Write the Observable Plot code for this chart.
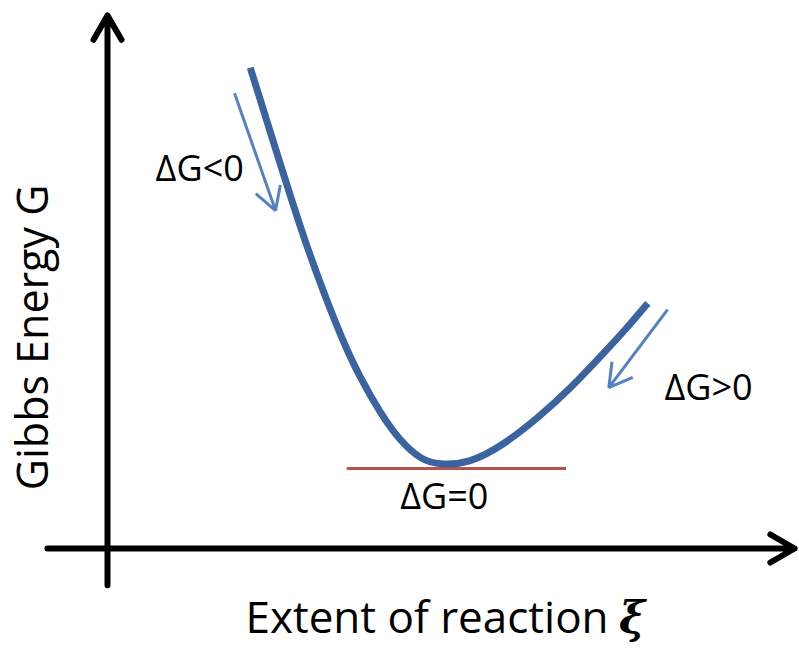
<!DOCTYPE html>
<html>
<head>
<meta charset="utf-8">
<script src="https://cdn.jsdelivr.net/npm/d3@7"></script>
<script src="https://cdn.jsdelivr.net/npm/@observablehq/plot@0.6"></script>
<style>
  html, body { margin: 0; padding: 0; background: #ffffff; }
  #chart svg { display: block; }
</style>
</head>
<body>
<div id="chart"></div>
<script>
// Gibbs energy curve (extent of reaction ξ, Gibbs energy G), arbitrary units
const curveXi = [2.09, 2.47, 2.84, 3.16, 3.44, 3.70, 4.00, 4.29, 4.58, 4.88, 5.31, 5.80, 6.30, 6.78, 7.26, 7.61, 7.91];
const curveG  = [9.02, 7.46, 5.98, 4.83, 3.93, 3.22, 2.55, 2.04, 1.71, 1.59, 1.65, 1.97, 2.46, 3.02, 3.66, 4.15, 4.60];

// Equilibrium tangent (ΔG = 0)
const tangentXi = [3.51, 6.72];
const tangentG = 1.50;

// Direction arrows beside the curve
const dirArrows = [
  {x1: 1.86, y1: 8.54, x2: 2.46, y2: 6.34},
  {x1: 8.20, y1: 4.48, x2: 7.34, y2: 3.02}
];

// Axis arrows
const axisArrows = [
  {x1: 0, y1: -0.69, x2: 0, y2: 10.0},
  {x1: -0.88, y1: 0, x2: 10.06, y2: 0}
];

// Annotation labels
const labelText = ["ΔG<0", "ΔG>0", "ΔG=0"];
const labelXi   = [1.35, 8.80, 4.93];
const labelG    = [6.90, 2.78, 0.75];

// Axis titles
const yTitle = "Gibbs Energy G";
const xTitle = "Extent of reaction";
const xSymbol = "ξ";

const curve = curveXi.map((x, i) => ({x, y: curveG[i]}));
const tangent = [{x1: tangentXi[0], x2: tangentXi[1], y: tangentG}];
const labels = labelText.map((t, i) => ({t, x: labelXi[i], y: labelG[i]}));

const font = "'Open Sans', 'Noto Sans', sans-serif";

const chart = Plot.plot({
  width: 799,
  height: 655,
  margin: 0,
  style: {background: "#ffffff", fontFamily: font},
  x: {domain: [0, 10], range: [107, 790], axis: null},
  y: {domain: [0, 10], range: [548, 15], axis: null},
  marks: [
    Plot.arrow(axisArrows, {
      x1: "x1", y1: "y1", x2: "x2", y2: "y2",
      stroke: "#000000", strokeWidth: 6, headLength: 7, headAngle: 60,
      strokeLinecap: "round", strokeLinejoin: "round"
    }),
    Plot.ruleY(tangent, {x1: "x1", x2: "x2", y: "y", stroke: "#b9514d", strokeWidth: 3}),
    Plot.line(curve, {
      x: "x", y: "y", curve: "natural",
      stroke: "#3b63a0", strokeWidth: 7, strokeLinecap: "butt"
    }),
    Plot.arrow(dirArrows, {
      x1: "x1", y1: "y1", x2: "x2", y2: "y2",
      stroke: "#5581c0", strokeWidth: 3, headLength: 13, headAngle: 60,
      strokeLinecap: "butt"
    }),
    Plot.text(labels, {
      x: "x", y: "y", text: "t", fontSize: 36, fontFamily: font,
      fill: "#000000", textAnchor: "middle", lineAnchor: "bottom"
    }),
    Plot.text([yTitle], {
      x: -0.878, y: 3.96, text: d => d, rotate: -90, fontSize: 43, fontFamily: font,
      fill: "#000000", textAnchor: "middle", lineAnchor: "bottom"
    }),
    Plot.text([xTitle], {
      x: 2.02, y: -1.58, text: d => d, fontSize: 44, fontFamily: font,
      fill: "#000000", textAnchor: "start", lineAnchor: "bottom"
    }),
    Plot.text([xSymbol], {
      x: 7.68, y: -1.58, text: d => d, fontSize: 44, fontFamily: "'DejaVu Serif', 'Liberation Serif', serif",
      fontWeight: "bold", fontStyle: "italic",
      fill: "#000000", textAnchor: "middle", lineAnchor: "bottom"
    })
  ]
});

document.getElementById("chart").appendChild(chart);
</script>
</body>
</html>
